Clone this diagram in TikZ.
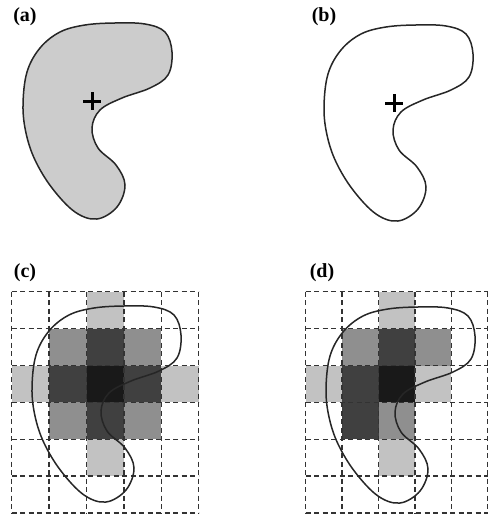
\documentclass[tikz,border=0pt]{standalone}
\usepackage{fontspec}
\setmainfont{Liberation Serif}
\definecolor{blobgray}{gray}{0.8}
\definecolor{lightc}{gray}{0.76}
\definecolor{midc}{gray}{0.56}
\definecolor{heavyc}{gray}{0.25}
\definecolor{blackc}{gray}{0.1}
\newcommand{\blob}[1]{\draw[#1] plot[smooth cycle, tension=.6] coordinates {(23,105) (27,72) (40,48) (60,32) (85,25) (115,23) (145,24) (165,32) (172,52) (168,75) (150,88) (122,98) (100,110) (92,128) (98,148) (116,165) (125,185) (117,207) (97,219) (75,212) (52,188) (35,160) (26,133)};}
\begin{document}
\begin{tikzpicture}[x=1pt, y=-1pt,
    panel/.style={font=\bfseries\fontsize{20}{24}\selectfont, inner sep=0pt},
    outline/.style={line width=1.5pt, black!85},
    gridline/.style={dash pattern=on 5pt off 3.5pt, line width=1.5pt, black!80},
    plusmark/.style={line width=3pt}]
    \useasboundingbox (0,0) rectangle (488,519);
    \node[panel] (la) at (25,17) {(a)};
    \node[panel] (lb) at (324,17) {(b)};
    \node[panel] (lc) at (25,273) {(c)};
    \node[panel] (ld) at (322,273) {(d)};
    \blob{outline, fill=blobgray}
    \draw[plusmark] (92,92)--(92,110) (83,101)--(101,101);
    \blob{outline, shift={(301,2)}}
    \draw[plusmark] (394,94)--(394,112) (385,103)--(403,103);
    % grid (c)
    \begin{scope}[shift={(11.7,291.7)}, x=37.4pt, y=-36.9pt]
        \foreach \c/\r/\s in {2/0/lightc, 1/1/midc, 2/1/heavyc, 3/1/midc, 0/2/lightc, 1/2/heavyc, 2/2/blackc, 3/2/heavyc, 4/2/lightc, 1/3/midc, 2/3/heavyc, 3/3/midc, 2/4/lightc}
            \fill[fill=\s] (\c,\r) rectangle ++(1,1);
        \foreach \i in {0,...,5} \draw[gridline] (\i,0)--(\i,6);
        \foreach \j in {0,...,6} \draw[gridline] (0,\j)--(5,\j);
    \end{scope}
    \blob{outline, shift={(9,283)}}
    % grid (d)
    \begin{scope}[shift={(305.7,291.7)}, x=36.4pt, y=-36.9pt]
        \foreach \c/\r/\s in {2/0/lightc, 1/1/midc, 2/1/heavyc, 3/1/midc, 0/2/lightc, 1/2/heavyc, 2/2/blackc, 3/2/lightc, 1/3/heavyc, 2/3/midc, 2/4/lightc}
            \fill[fill=\s] (\c,\r) rectangle ++(1,1);
        \foreach \i in {0,...,5} \draw[gridline] (\i,0)--(\i,6);
        \foreach \j in {0,...,6} \draw[gridline] (0,\j)--(5,\j);
    \end{scope}
    \blob{outline, shift={(303,284)}}
\end{tikzpicture}
\end{document}
